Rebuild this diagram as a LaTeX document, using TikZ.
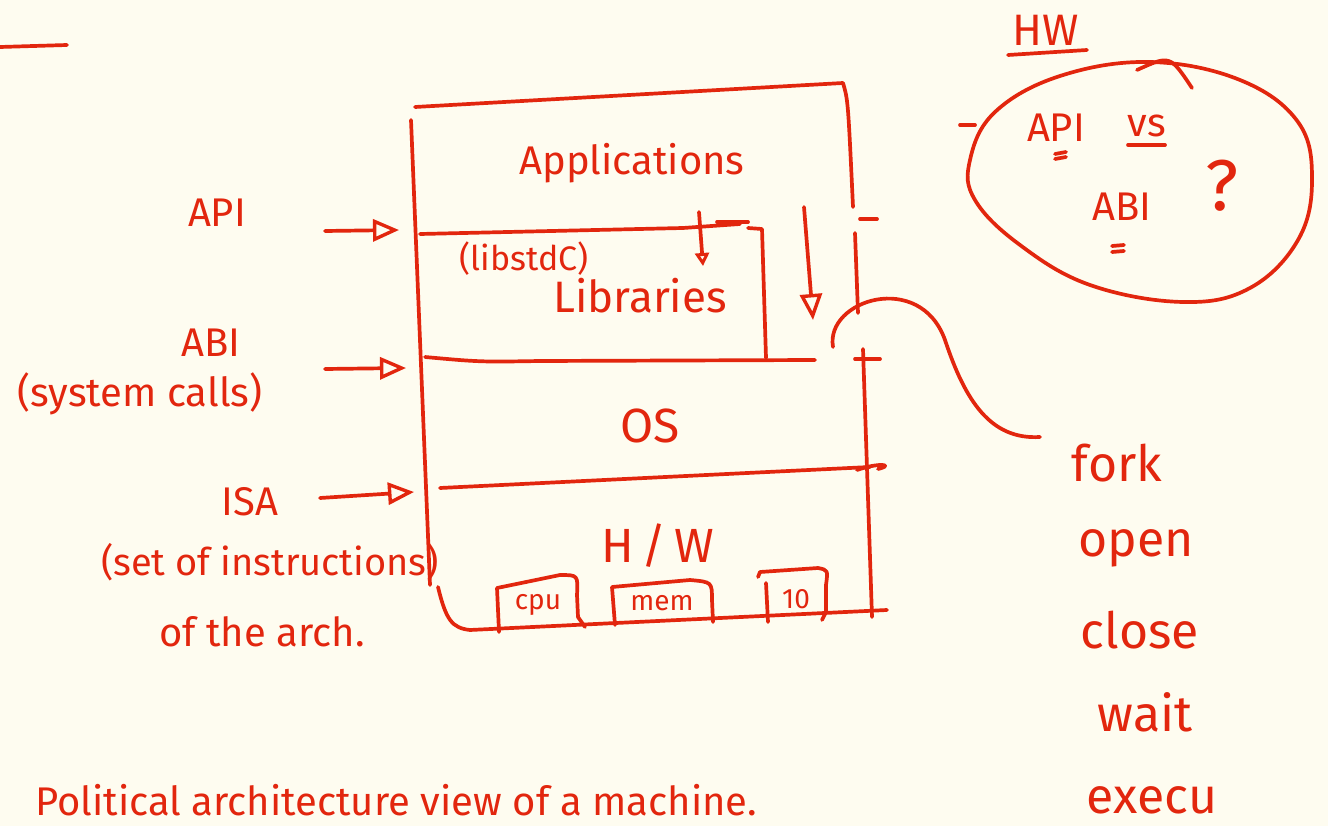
\documentclass[tikz,border=0pt]{standalone}
\usepackage{fontspec}
\setmainfont{Fira Sans}
\usetikzlibrary{arrows.meta}
\definecolor{ink}{RGB}{226,38,14}
\definecolor{paper}{RGB}{254,252,240}
\tikzset{
  pen/.style={draw=ink,line width=3.7pt,line cap=round,line join=round},
  lbl/.style={text=ink,inner sep=0pt,font=\fontsize{44}{48}\selectfont},
  mid/.style={text=ink,inner sep=0pt,font=\fontsize{40}{44}\selectfont},
  sml/.style={text=ink,inner sep=0pt,font=\fontsize{28}{32}\selectfont},
  harrow/.style={pen,-{Triangle[open,length=26pt,width=22pt,line width=3.4pt]}},
  tinyarrow/.style={pen,-{Triangle[open,length=13pt,width=14pt,line width=3pt]}},
}
\begin{document}
\begin{tikzpicture}[x=1pt,y=-1pt]
\fill[paper] (0,0) rectangle (1328,826);
\useasboundingbox (0,0) rectangle (1328,826);

% stray stroke top left
\draw[pen] (0,47) -- (67,45);

% ---------- the layered box ----------
\draw[pen] (415,107) -- (843,83) .. controls (848,100) .. (853,207);
\draw[pen] (411,120) -- (430,585);
\draw[pen] (438,587) .. controls (446,620) and (452,628) .. (470,630) -- (887,610);
% right side pieces
\draw[pen] (855,233) -- (858,313);
\draw[pen] (860,219) -- (877,219);
\draw[pen] (855,359) -- (880,359);
\draw[pen] (863,349) -- (872,617);
% applications / libraries divider
\draw[pen] (420,234) -- (683,228) -- (740,224);
\draw[pen] (717,222) -- (748,222);
\draw[pen] (748,228) -- (762,229) -- (766,358);
% libraries / OS divider
\draw[pen] (425,357) .. controls (480,362) .. (540,361) -- (815,360);
% OS / HW divider
\draw[pen] (440,488) -- (870,467);
\draw[pen] (857,470) .. controls (880,462) and (895,465) .. (878,469);

% ---------- texts inside the box ----------
\node[lbl,font=\fontsize{40}{44}\selectfont] (apps) at (632,163) {Applications};
\node[sml,font=\fontsize{34}{38}\selectfont] (libstd) at (524,259) {(libstdC)};
\node[lbl] (libs) at (640,296) {Libraries};
\node[lbl,font=\fontsize{48}{52}\selectfont] (os) at (650,426) {OS};
\node[lbl,font=\fontsize{48}{52}\selectfont] (hw) at (658,546) {H\,/\,W};

% hardware boxes
\draw[pen] (499,632) -- (497,588) -- (560,575) .. controls (578,575) .. (577,595) -- (578,617) -- (585,627);
\node[sml] (cpu) at (538,605) {cpu};
\draw[pen] (615,625) -- (612,587) -- (690,580) .. controls (712,582) .. (712,600) -- (713,622);
\node[sml] (mem) at (662,603) {mem};
\draw[pen] (768,622) -- (766,583);
\draw[pen] (758,577) -- (760,572) -- (818,568) .. controls (828,570) .. (826,585) -- (826,612) -- (822,620);
\node[sml] (io) at (796,599) {10};

% small arrow in libraries
\coordinate (libA) at (699,212);
\coordinate (libB) at (703,266);
\draw[tinyarrow] (libA) -- (libB);
% big down arrow
\coordinate (dnA) at (804,207);
\coordinate (dnB) at (813,320);
\draw[harrow] (dnA) -- (dnB);

% ---------- left labels ----------
\node[mid] (api) at (217,213) {API};
\node[mid] (abi) at (211,343) {ABI};
\node[mid] (syscalls) at (140,394) {(system calls)};
\node[mid] (isa) at (250,502) {ISA};
\node[mid,font=\fontsize{38}{42}\selectfont] (setins) at (270,562) {(set of instructions)};
\node[mid] (arch) at (262,632) {of the arch.};

\coordinate (apiT) at (325,231);
\coordinate (apiH) at (399,230);
\coordinate (abiT) at (325,369);
\coordinate (abiH) at (406,368);
\coordinate (isaT) at (320,498);
\coordinate (isaH) at (414,492);
\draw[harrow] (apiT) -- (apiH);
\draw[harrow] (abiT) -- (abiH);
\draw[harrow] (isaT) -- (isaH);

% ---------- system call list ----------
\node[lbl,font=\fontsize{50}{54}\selectfont] (fork) at (1117,463) {fork};
\node[lbl,font=\fontsize{50}{54}\selectfont] (open) at (1136,548) {open};
\node[lbl,font=\fontsize{50}{54}\selectfont] (close) at (1140,630) {close};
\node[lbl,font=\fontsize{50}{54}\selectfont] (wait) at (1145,712) {wait};
\node[lbl,font=\fontsize{50}{54}\selectfont] (execu) at (1152,800) {execu};

\coordinate (arcS) at (833,347);
\coordinate (arcE) at (1040,437);
\draw[pen] (arcS) .. controls (825,300) and (920,270) .. (945,340)
  .. controls (965,400) and (990,440) .. (arcE);

% ---------- homework bubble ----------
\node[mid,font=\fontsize{44}{48}\selectfont] (hwt) at (1046,30) {HW};
\draw[pen] (1008,55) -- (1087,50);
\draw[pen] plot[smooth cycle, tension=0.65] coordinates {
  (1150,62) (1240,80) (1298,122) (1312,180) (1298,240) (1250,288)
  (1183,302) (1090,285) (1020,245) (975,200) (970,160) (995,112) (1060,76)};
\draw[pen] (1137,70) .. controls (1170,55) .. (1192,88);
\draw[pen] (960,125) -- (975,125);
\node[mid] (api2) at (1056,128) {API};
\draw[pen] (1055,154) -- (1066,152);
\draw[pen] (1055,159) -- (1066,157);
\node[mid] (vs) at (1147,126) {vs};
\draw[pen] (1128,145) -- (1165,145);
\node[mid] (abi2) at (1122,207) {ABI};
\draw[pen] (1112,246) -- (1124,245);
\draw[pen] (1112,252) -- (1124,251);
\node[lbl,font=\fontsize{72}{76}\selectfont] (q) at (1222,186) {?};

% ---------- bottom line (cut by the page edge in the reference) ----------
\node[lbl,font=\fontsize{40}{44}\selectfont,anchor=base west] (bottom) at (35,815) {Political architecture view of a machine.};
\end{tikzpicture}
\end{document}
